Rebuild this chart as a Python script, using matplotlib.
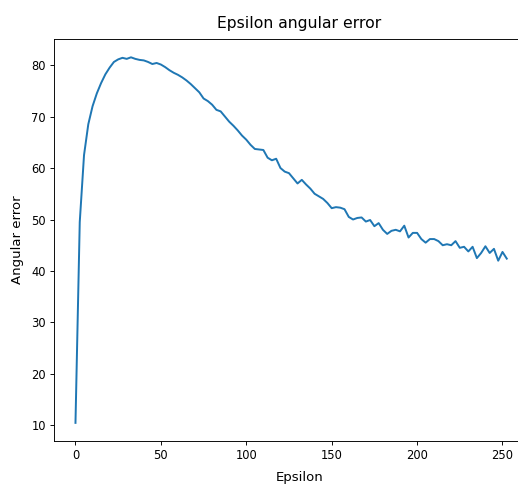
import numpy as np
import matplotlib
matplotlib.use('Agg')
import matplotlib.pyplot as plt

# epsilon values (step 2.5)
epsilon = np.arange(0, 253, 2.5)

angular_error = [
    10.5, 49.5, 62.5, 68.5, 72.0, 74.5, 76.5, 78.2, 79.5, 80.6,
    81.1, 81.4, 81.2, 81.5, 81.2, 81.0, 80.9, 80.6, 80.2, 80.4,
    80.1, 79.6, 79.0, 78.5, 78.1, 77.6, 77.0, 76.3, 75.5, 74.7,
    73.5, 73.0, 72.3, 71.3, 71.0, 70.0, 69.0, 68.2, 67.3, 66.3,
    65.5, 64.5, 63.7, 63.6, 63.5, 62.0, 61.5, 61.8, 60.0, 59.3,
    59.0, 58.0, 57.0, 57.7, 56.8, 56.0, 55.0, 54.5, 54.0, 53.2,
    52.2, 52.4, 52.3, 52.0, 50.5, 50.0, 50.3, 50.4, 49.6, 49.9,
    48.7, 49.3, 48.0, 47.2, 47.8, 48.0, 47.7, 48.8, 46.5, 47.4,
    47.4, 46.2, 45.5, 46.2, 46.2, 45.8, 45.0, 45.2, 45.0, 45.8,
    44.5, 44.7, 43.8, 44.7, 42.5, 43.5, 44.8, 43.5, 44.3, 42.0,
    43.7, 42.4,
]

dpi = 83
fig = plt.figure(figsize=(518 / dpi, 488 / dpi), dpi=dpi)
# the right side of the plot is cut off in the original screenshot
ax = fig.add_axes([0.104, 0.096, 0.9485, 0.824])

ax.plot(epsilon[:len(angular_error)], angular_error, linewidth=1.7)
ax.set_xlim(-12.65, 275)

ax.set_title('Epsilon angular error', fontsize=13.5, pad=10)
ax.set_xlabel('Epsilon', fontsize=11.5, labelpad=8)
ax.set_ylabel('Angular error', fontsize=11.5, labelpad=6.5)

fig.savefig('out.png', dpi=dpi)
